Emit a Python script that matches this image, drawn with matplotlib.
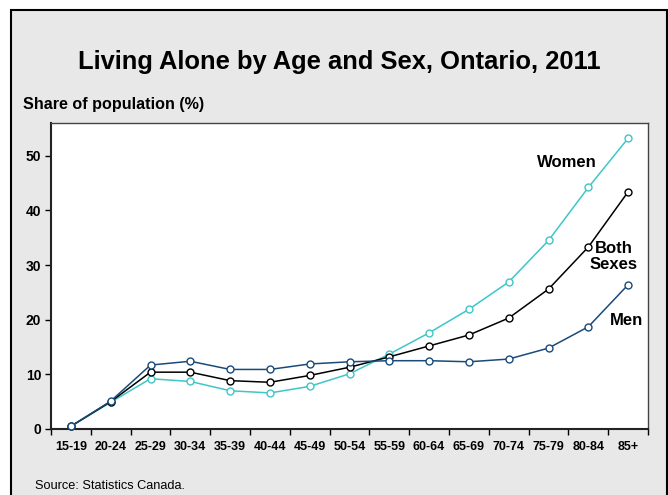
import matplotlib.pyplot as plt
from matplotlib.patches import Rectangle

plt.rcParams['font.family'] = ['Liberation Sans', 'DejaVu Sans']

age_groups = ['15-19', '20-24', '25-29', '30-34', '35-39', '40-44', '45-49', '50-54',
              '55-59', '60-64', '65-69', '70-74', '75-79', '80-84', '85+']
men = [0.5, 5.1, 11.7, 12.4, 10.9, 10.9, 11.9, 12.3, 12.5, 12.5, 12.3, 12.8, 14.8, 18.7, 26.4]
both = [0.5, 5.0, 10.4, 10.4, 8.85, 8.55, 9.8, 11.3, 13.2, 15.2, 17.2, 20.3, 25.6, 33.3, 43.4]
women = [0.5, 4.9, 9.2, 8.7, 7.0, 6.6, 7.8, 10.1, 13.7, 17.6, 21.9, 26.9, 34.5, 44.2, 53.2]

W, H = 668, 495
fig = plt.figure(figsize=(W / 100, H / 100), dpi=100)
fig.patch.set_facecolor('white')

# grey panel with dark frame
panel = Rectangle((11 / W, -0.02), 655.5 / W, (H - 10) / H + 0.02,
                  transform=fig.transFigure, facecolor='#e8e8e8',
                  edgecolor='black', linewidth=1.5, zorder=-10)
fig.add_artist(panel)

ax = fig.add_axes([51 / W, (H - 429) / H, (648 - 51) / W, (429 - 123) / H])
ax.set_zorder(1)
ax.set_facecolor('white')

x = range(len(age_groups))
mk = dict(marker='o', markersize=5, markerfacecolor='white', markeredgewidth=1.0,
          linewidth=1.1, clip_on=False)
ax.plot(x, women, color='#3ec6c8', markeredgecolor='#3ec6c8', zorder=3, **mk)
ax.plot(x, both, color='black', markeredgecolor='black', zorder=4, **mk)
ax.plot(x, men, color='#1a4a7a', markeredgecolor='#1a4a7a', zorder=5, **mk)

ax.set_xlim(-0.5, len(age_groups) - 0.5)
ax.set_ylim(0, 56)
ax.set_yticks([0, 10, 20, 30, 40, 50])
ax.set_xticks([i - 0.5 for i in range(len(age_groups) + 1)])
ax.set_xticklabels([])
ax.set_xticks(list(x), minor=True)
ax.set_xticklabels(age_groups, minor=True)
ax.tick_params(axis='x', which='minor', length=0, pad=9, labelsize=9)
ax.tick_params(axis='x', which='major', direction='out', length=4, width=1)
ax.tick_params(axis='y', direction='out', length=4, width=1, labelsize=10, pad=3)
for lbl in ax.get_xticklabels(minor=True) + ax.get_yticklabels():
    lbl.set_fontweight('bold')

for side in ['left', 'bottom']:
    ax.spines[side].set_linewidth(1.5)
    ax.spines[side].set_color('#222222')
for side in ['top', 'right']:
    ax.spines[side].set_linewidth(1.0)
    ax.spines[side].set_color('#444444')

ax.text(12.45, 48.7, 'Women', fontsize=12, fontweight='bold', ha='center', va='center')
ax.text(13.64, 31.6, 'Both\nSexes', fontsize=12, fontweight='bold', ha='center', va='center',
        linespacing=1.1)
ax.text(13.95, 19.8, 'Men', fontsize=12, fontweight='bold', ha='center', va='center')

fig.text(339 / W, 1 - 62 / H, 'Living Alone by Age and Sex, Ontario, 2011',
         fontsize=18.4, fontweight='bold', ha='center', va='center')
fig.text(23 / W, 1 - 105 / H, 'Share of population (%)', fontsize=11.6,
         fontweight='bold', ha='left', va='center')
fig.text(35 / W, 1 - 486 / H, 'Source: Statistics Canada.', fontsize=9.2,
         ha='left', va='center')

fig.savefig('out.png', dpi=100, facecolor=fig.get_facecolor())
